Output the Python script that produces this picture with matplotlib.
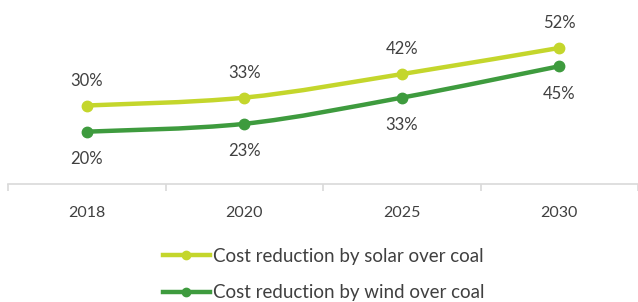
import matplotlib.pyplot as plt
from matplotlib.path import Path
from matplotlib.patches import PathPatch
from matplotlib.lines import Line2D

years = ['2018', '2020', '2025', '2030']
solar = [30, 33, 42, 52]
wind = [20, 23, 33, 45]
solar_label = 'Cost reduction by solar over coal'
wind_label = 'Cost reduction by wind over coal'

SOLAR_COLOR = '#c4d62c'
WIND_COLOR = '#3e9b3e'
TEXT_COLOR = '#404040'

plt.rcParams['font.family'] = ['Lato', 'DejaVu Sans']


def smooth_path(xs, ys):
    # bezier segments through the points, like a spreadsheet "smoothed line"
    pts = list(zip(xs, ys))
    verts = [pts[0]]
    codes = [Path.MOVETO]
    n = len(pts)
    for i in range(n - 1):
        p0 = pts[i - 1] if i > 0 else pts[i]
        p1 = pts[i]
        p2 = pts[i + 1]
        p3 = pts[i + 2] if i + 2 < n else pts[i + 1]
        c1 = (p1[0] + (p2[0] - p0[0]) / 6, p1[1] + (p2[1] - p0[1]) / 6)
        c2 = (p2[0] - (p3[0] - p1[0]) / 6, p2[1] - (p3[1] - p1[1]) / 6)
        verts += [c1, c2, p2]
        codes += [Path.CURVE4] * 3
    return Path(verts, codes)


fig = plt.figure(figsize=(6.38, 3.02), dpi=100)
ax = fig.add_axes([8 / 638, 118 / 302, 630 / 638, 157 / 302])

x = list(range(len(years)))
for vals, color, off, va in [
    (solar, SOLAR_COLOR, 12, 'bottom'),
    (wind, WIND_COLOR, -14, 'top'),
]:
    ax.add_patch(PathPatch(smooth_path(x, vals), facecolor='none',
                           edgecolor=color, lw=3.2, capstyle='round'))
    ax.plot(x, vals, 'o', color=color, ms=7.5)
    for xi, v in zip(x, vals):
        ax.annotate(f'{v}%', (xi, v), xytext=(0, off), textcoords='offset points',
                    ha='center', va=va, fontsize=12, color=TEXT_COLOR)

ax.set_xlim(-0.5, len(years) - 0.5)
ax.set_ylim(0, 60)
for s in ['top', 'right', 'left']:
    ax.spines[s].set_visible(False)
ax.spines['bottom'].set_color('#d9d9d9')
ax.spines['bottom'].set_linewidth(1.2)
ax.set_yticks([])

# category boundaries as tick marks, year labels centred in each category
ax.set_xticks([i - 0.5 for i in range(len(years) + 1)])
ax.set_xticklabels([])
ax.tick_params(axis='x', which='major', length=5, width=1.2, color='#d9d9d9')
ax.set_xticks(x, minor=True)
ax.set_xticklabels(years, minor=True)
ax.tick_params(axis='x', which='minor', length=0, pad=16, labelsize=11.5, labelcolor=TEXT_COLOR)

handles = [Line2D([], [], color=SOLAR_COLOR, lw=3.2, marker='o', ms=6),
           Line2D([], [], color=WIND_COLOR, lw=3.2, marker='o', ms=6)]
fig.legend(handles, [solar_label, wind_label], loc='upper left',
           bbox_to_anchor=(163 / 638, 0.18), ncol=1, frameon=False, fontsize=13.5,
           labelcolor=TEXT_COLOR, handlelength=2.5, handletextpad=0.15,
           labelspacing=1.05, borderpad=0, borderaxespad=0)

fig.savefig('out.png', dpi=100)
